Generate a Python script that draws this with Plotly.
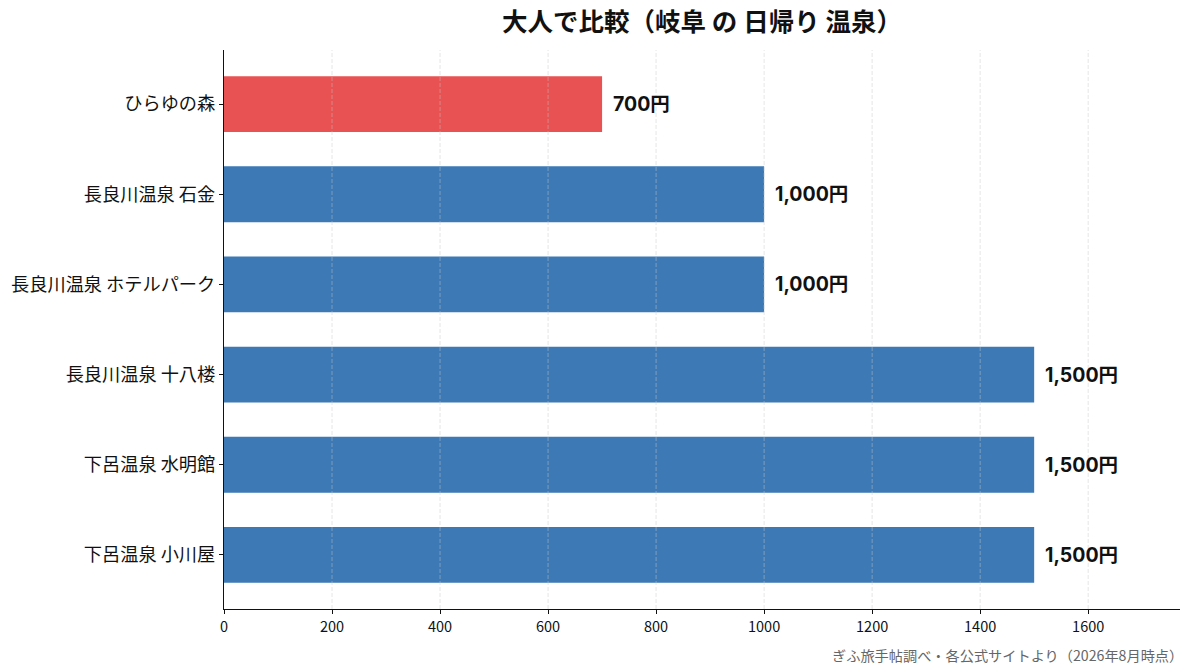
import plotly.graph_objects as go

names = ["ひらゆの森", "長良川温泉 石金", "長良川温泉 ホテルパーク", "長良川温泉 十八楼", "下呂温泉 水明館", "下呂温泉 小川屋"]
prices = [700, 1000, 1000, 1500, 1500, 1500]
price_labels = ["700円", "1,000円", "1,000円", "1,500円", "1,500円", "1,500円"]
bar_colors = ["#E85252", "#3D7AB5", "#3D7AB5", "#3D7AB5", "#3D7AB5", "#3D7AB5"]
x_ticks = [0, 200, 400, 600, 800, 1000, 1200, 1400, 1600]

FONT = "Noto Sans CJK JP"
NUMFONT = "Inter, Noto Sans CJK JP"

fig = go.Figure()
fig.add_trace(go.Bar(
    x=prices, y=names, orientation="h",
    marker=dict(color=bar_colors, line=dict(width=0)),
    width=0.62, hoverinfo="skip",
))

for n, p, lab in zip(names, prices, price_labels):
    fig.add_annotation(x=p, y=n, text="<b>" + lab + "</b>", showarrow=False,
                       xanchor="left", yanchor="middle", xshift=9,
                       font=dict(family=NUMFONT, size=19.5, color="#111"))

# faint dashed grid drawn over the bars, at the tick values
for t in x_ticks[1:]:
    fig.add_vline(x=t, line=dict(color="rgba(200,200,200,0.45)", width=1, dash="4px,2px"), layer="above")

fig.add_annotation(x=1, y=0, xref="paper", yref="paper", xanchor="right", yanchor="top",
                   xshift=5, yshift=-34,
                   text="ぎふ旅手帖調べ・各公式サイトより（2026年8月時点）", showarrow=False,
                   font=dict(family=FONT, size=14.2, color="#666"))

fig.update_layout(
    width=1193, height=672,
    margin=dict(l=224, r=13, t=50, b=63),
    paper_bgcolor="white", plot_bgcolor="white",
    font=dict(family=FONT, color="#111"),
    showlegend=False,
    title=dict(text="<b>大人で比較（岐阜 の 日帰り 温泉）</b>", x=0.5, xref="paper", xanchor="center",
               y=0.967, yanchor="middle", font=dict(family=FONT, size=25.5, color="#111")),
    xaxis=dict(range=[0, 1770], tickvals=x_ticks, showgrid=False, zeroline=False, showline=True,
               linecolor="#111", linewidth=1.2, ticks="outside", ticklen=4, tickcolor="#111",
               tickfont=dict(family=FONT, size=14.5, color="#111")),
    yaxis=dict(categoryorder="array", categoryarray=names, autorange=False, range=[5.6, -0.6],
               showgrid=False, zeroline=False, showline=True, linecolor="#111", linewidth=1.2,
               ticks="outside", ticklen=4, tickcolor="#111",
               tickfont=dict(family=FONT, size=18.2, color="#111")),
)

fig.write_html("out.html", config={"displayModeBar": False},
               post_script="document.body.style.margin='0';document.body.style.padding='0';")
